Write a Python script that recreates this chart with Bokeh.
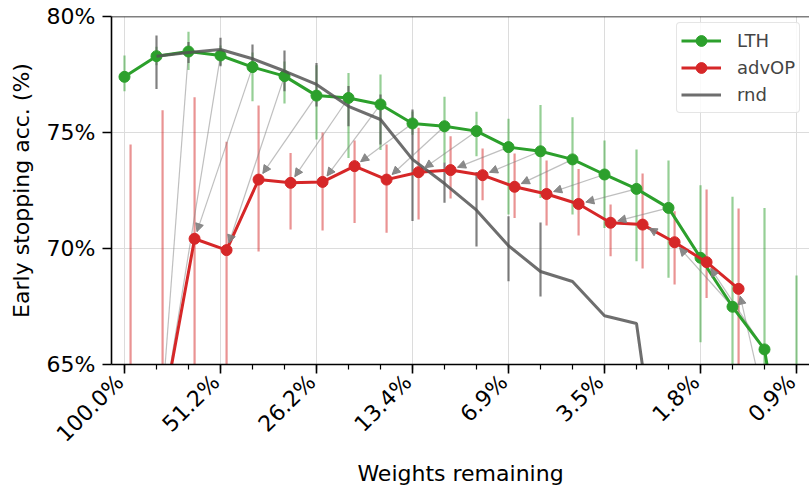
import math
from bokeh.plotting import figure
from bokeh.models import (ColumnDataSource, Range1d, FixedTicker, PrintfTickFormatter,
                          Arrow, NormalHead, Span, Legend, LegendItem, LinearAxis)
from bokeh.embed import file_html
from bokeh.resources import INLINE

# ---------------- data ----------------
steps = list(range(22))
tick_steps = [0, 3, 6, 9, 12, 15, 18, 21]
tick_labels = ["100.0%", "51.2%", "26.2%", "13.4%", "6.9%", "3.5%", "1.8%", "0.9%"]
y_ticks = [65, 70, 75, 80]

lth_mean = [77.40, 78.29, 78.49, 78.32, 77.82, 77.43, 76.59, 76.49, 76.21, 75.39, 75.27,
            75.06, 74.37, 74.19, 73.84, 73.19, 72.57, 71.75, 69.60, 67.49, 65.65, 57.2]
lth_lo = [76.78, 77.90, 77.69, 77.90, 76.35, 76.25, 74.70, 73.90, 74.25, 74.90, 73.69,
          73.98, 71.47, 72.18, 71.47, 70.88, 69.45, 68.74, 65.96, 62.5, 60.0, 45.0]
lth_hi = [78.32, 78.70, 79.34, 78.75, 78.45, 78.06, 77.90, 77.57, 77.50, 75.90, 76.54,
          75.89, 75.59, 76.18, 75.66, 74.66, 74.27, 73.79, 72.73, 72.23, 71.75, 68.84]

adv_steps = list(range(20))
adv_mean = [45.0, 62.84, 70.42, 69.93, 72.97, 72.83, 72.87, 73.55, 72.97, 73.29, 73.38,
            73.16, 72.66, 72.35, 71.92, 71.11, 71.03, 70.27, 69.41, 68.26]
adv_lo = [15.0, 50.0, 64.3, 64.5, 69.87, 70.82, 70.78, 71.10, 70.68, 71.25, 72.16,
          72.08, 71.32, 70.99, 70.56, 69.67, 69.14, 68.45, 67.87, 64.0]
adv_hi = [74.48, 75.96, 76.52, 74.60, 76.16, 74.12, 75.00, 74.66, 74.48, 75.20, 74.84,
          74.31, 74.10, 73.79, 73.43, 71.90, 73.23, 71.61, 72.54, 71.72]

rnd_steps = list(range(1, 18))
rnd_mean = [78.29, 78.45, 78.58, 78.18, 77.65, 77.07, 76.13, 75.56, 73.84, 72.80, 71.65,
            70.12, 69.01, 68.58, 67.10, 66.77, 57.0]
rnd_lo = [76.88, 78.00, 77.86, 77.57, 76.78, 76.12, 75.27, 74.48, 71.18, 71.97, 70.09,
          68.59, 67.93, 68.58, 67.10, 66.77, 57.0]
rnd_hi = [79.18, 78.90, 79.08, 78.79, 78.53, 78.00, 77.00, 76.64, 75.99, 73.70, 73.30,
          71.39, 71.12, 68.58, 67.10, 66.77, 57.0]

# ---------------- style ----------------
W, H = 809, 489
LEFT, RIGHT, TOP, BOTTOM = 111, 0, 16, 125
X0, X1 = -0.406, 21.406
Y0, Y1 = 65, 80
ADV_OFFSET = 0.19
LABEL_SHIFT = 0.15   # shifts rotated x tick labels left so they end at their tick
FONT = "DejaVu Sans"
GREEN, RED, GRAY = "#2ca02c", "#d62728", "#555555"
TICK_FONT = "22px"

p = figure(width=W, height=H, output_backend="svg", toolbar_location=None,
           x_range=Range1d(X0, X1), y_range=Range1d(Y0, Y1),
           min_border_left=LEFT, min_border_right=RIGHT,
           min_border_top=TOP, min_border_bottom=BOTTOM)
p.outline_line_color = None
p.background_fill_color = "white"
p.border_fill_color = "white"

# axes
p.xaxis.ticker = FixedTicker(ticks=tick_steps, minor_ticks=steps)
p.yaxis.ticker = FixedTicker(ticks=y_ticks)
p.yaxis.formatter = PrintfTickFormatter(format="%d%%")
for ax in (p.xaxis, p.yaxis):
    ax.axis_line_width = 1.6
    ax.axis_line_color = "black"
    ax.major_tick_line_width = 1.6
    ax.minor_tick_line_width = 1.2
    ax.major_tick_out = 9
    ax.major_tick_in = 0
    ax.minor_tick_in = 0
    ax.major_label_text_font = FONT
    ax.major_label_text_font_size = TICK_FONT
    ax.major_label_text_color = "black"
    ax.axis_label_text_font = FONT
    ax.axis_label_text_font_size = "22px"
    ax.axis_label_text_font_style = "normal"
    ax.axis_label_text_color = "black"
p.xaxis.minor_tick_out = 5
p.yaxis.minor_tick_out = 0
p.xaxis.major_label_text_font_size = "1px"
p.xaxis.major_label_text_color = None
p.xaxis.major_label_text_alpha = 0
p.xaxis.major_label_standoff = 0
p.yaxis.major_label_standoff = 7
p.yaxis.axis_label = "Early stopping acc. (%)"
p.yaxis.axis_label_standoff = 10

# label axis: same ticks, drawn on a range shifted so rotated labels end at the ticks
p.extra_x_ranges = {"labels": Range1d(X0 + LABEL_SHIFT, X1 + LABEL_SHIFT)}
lab_axis = LinearAxis(x_range_name="labels",
                      ticker=FixedTicker(ticks=tick_steps),
                      major_label_overrides={t: s for t, s in zip(tick_steps, tick_labels)},
                      major_label_orientation=math.pi / 4,
                      axis_line_color=None, major_tick_out=0, major_tick_in=0,
                      minor_tick_out=0, minor_tick_in=0,
                      major_label_standoff=5,
                      major_label_text_font=FONT, major_label_text_font_size=TICK_FONT,
                      major_label_text_color="black",
                      axis_label="Weights remaining", axis_label_text_font=FONT,
                      axis_label_text_font_size="22px", axis_label_text_font_style="normal",
                      axis_label_text_color="black", axis_label_standoff=3)
p.add_layout(lab_axis, "below")

p.xgrid.grid_line_color = "#dcdcdc"
p.ygrid.grid_line_color = "#dcdcdc"
p.xgrid.grid_line_width = 1
p.ygrid.grid_line_width = 1

p.add_layout(Span(location=Y1, dimension="width", line_color="black", line_width=1.6))

# sources
lth_src = ColumnDataSource(dict(x=steps, y=lth_mean, lo=lth_lo, hi=lth_hi))
adv_x = [s + ADV_OFFSET for s in adv_steps]
adv_src = ColumnDataSource(dict(x=adv_x, y=adv_mean, lo=adv_lo, hi=adv_hi))
rnd_src = ColumnDataSource(dict(x=rnd_steps, y=rnd_mean, lo=rnd_lo, hi=rnd_hi))

# arrows: LTH step i -> advOP step i-2
sx = (W - LEFT - RIGHT) / (X1 - X0)
sy = (H - TOP - BOTTOM) / (Y1 - Y0)
SHRINK_A, SHRINK_B = 4.0, 7.5
xs0, ys0, xs1, ys1 = [], [], [], []
hx0, hy0, hx1, hy1 = [], [], [], []
for i in steps:
    j = i - 2
    if j < 0 or j >= len(adv_steps):
        continue
    ax_, ay_ = steps[i], lth_mean[i]
    bx_, by_ = adv_x[j], adv_mean[j]
    dxp, dyp = (bx_ - ax_) * sx, (by_ - ay_) * sy
    L = math.hypot(dxp, dyp)
    ux, uy = dxp / L, dyp / L
    sx0 = ax_ + ux * SHRINK_A / sx
    sy0 = ay_ + uy * SHRINK_A / sy
    ex = bx_ - ux * SHRINK_B / sx
    ey = by_ - uy * SHRINK_B / sy
    xs0.append(sx0); ys0.append(sy0); xs1.append(ex); ys1.append(ey)
    if by_ >= Y0:
        hx0.append(sx0); hy0.append(sy0); hx1.append(ex); hy1.append(ey)

arr_src = ColumnDataSource(dict(x0=xs0, y0=ys0, x1=xs1, y1=ys1))
head_src = ColumnDataSource(dict(x0=hx0, y0=hy0, x1=hx1, y1=hy1))

# error bars
p.segment(x0="x", y0="lo", x1="x", y1="hi", source=lth_src, line_color=GREEN,
          line_alpha=0.5, line_width=2.2)
p.segment(x0="x", y0="lo", x1="x", y1="hi", source=adv_src, line_color=RED,
          line_alpha=0.5, line_width=2.2)
p.segment(x0="x", y0="lo", x1="x", y1="hi", source=rnd_src, line_color=GRAY,
          line_alpha=0.75, line_width=2.2)

# arrow shafts
p.segment(x0="x0", y0="y0", x1="x1", y1="y1", source=arr_src, line_color="gray",
          line_alpha=0.5, line_width=1.2)

# lines + markers
lth_line = p.line("x", "y", source=lth_src, line_color=GREEN, line_width=3)
lth_pts = p.scatter("x", "y", source=lth_src, size=11, fill_color=GREEN, line_color=GREEN)
adv_line = p.line("x", "y", source=adv_src, line_color=RED, line_width=3)
adv_pts = p.scatter("x", "y", source=adv_src, size=11, fill_color=RED, line_color=RED)
rnd_line = p.line("x", "y", source=rnd_src, line_color=GRAY, line_alpha=0.85, line_width=3)

# arrow heads
p.add_layout(Arrow(end=NormalHead(size=8, fill_color="gray", line_color="gray",
                                  fill_alpha=0.9, line_alpha=0.9),
                   x_start="x0", y_start="y0", x_end="x1", y_end="y1",
                   source=head_src, line_alpha=0.0))

legend = Legend(items=[LegendItem(label="LTH", renderers=[lth_line, lth_pts]),
                       LegendItem(label="advOP", renderers=[adv_line, adv_pts]),
                       LegendItem(label="rnd", renderers=[rnd_line])],
                location=(565, 251))
legend.label_text_font = FONT
legend.label_text_font_size = "18px"
legend.glyph_width = 40
legend.glyph_height = 27
legend.label_height = 20
legend.spacing = 0
legend.padding = 4
legend.margin = 0
legend.label_standoff = 16
legend.border_line_color = "#cccccc"
legend.border_line_width = 1.6
legend.background_fill_alpha = 0.85
try:
    legend.border_radius = 4
except Exception:
    pass
p.add_layout(legend)

open("out.html", "w").write(file_html(p, INLINE))
